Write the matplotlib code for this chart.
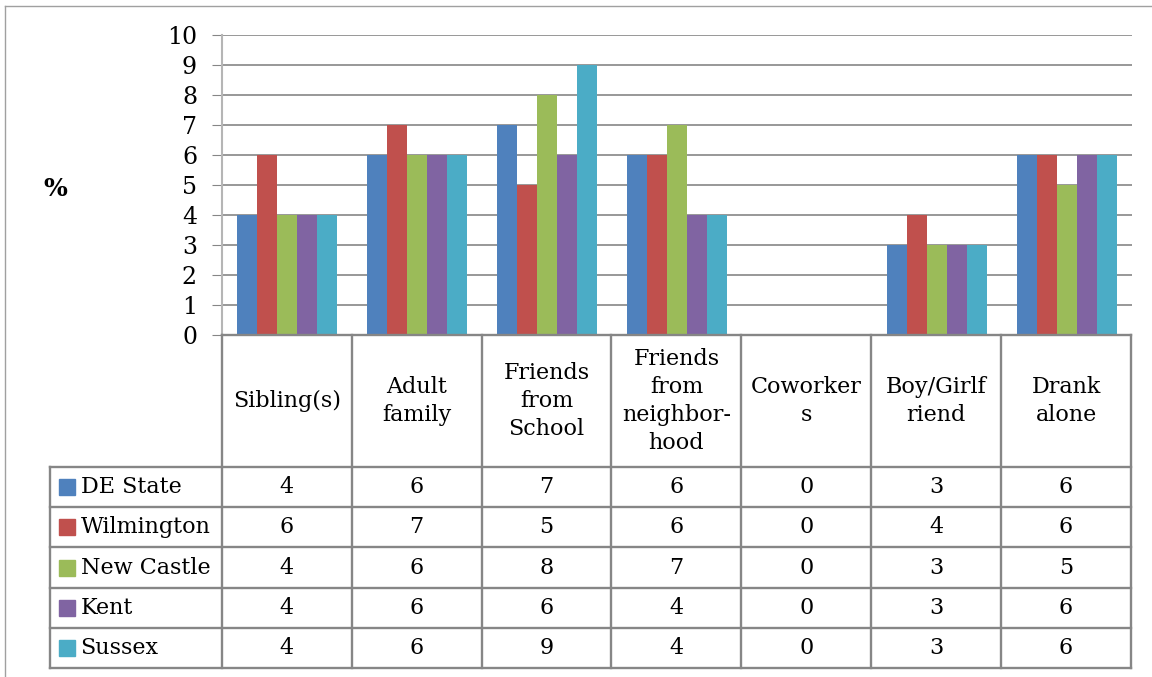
import matplotlib.pyplot as plt
from matplotlib.lines import Line2D

plt.rcParams['font.family'] = ['DejaVu Serif']

categories = ['Sibling(s)', 'Adult\nfamily', 'Friends\nfrom\nSchool', 'Friends\nfrom\nneighbor-\nhood',
              'Coworker\ns', 'Boy/Girlf\nriend', 'Drank\nalone']
series = ['DE State', 'Wilmington', 'New Castle', 'Kent', 'Sussex']
de_state = [4, 6, 7, 6, 0, 3, 6]
wilmington = [6, 7, 5, 6, 0, 4, 6]
new_castle = [4, 6, 8, 7, 0, 3, 5]
kent = [4, 6, 6, 4, 0, 3, 6]
sussex = [4, 6, 9, 4, 0, 3, 6]
values = [de_state, wilmington, new_castle, kent, sussex]
colors = ['#4F81BD', '#C0504D', '#9BBB59', '#8064A2', '#4BACC6']

W, H = 1152, 677
fig = plt.figure(figsize=(W / 100, H / 100), dpi=100)
grid_c = '#868686'
fs = 16

# bar chart
ax = fig.add_axes([222 / W, 1 - 335 / H, 910 / W, 300 / H])
bw = 20 / 130
x = range(len(categories))
for k, vals in enumerate(values):
    ax.bar([i + (k - 2) * bw for i in x], vals, width=bw, color=colors[k], zorder=2)
ax.set_xlim(-0.5, 6.5)
ax.set_ylim(0, 10)
ax.set_yticks(range(0, 11))
ax.tick_params(axis='y', labelsize=fs + 1, length=7, pad=11, color=grid_c)
ax.set_xticks([])
ax.yaxis.grid(True, color=grid_c, lw=1.2)
ax.set_axisbelow(True)
for s in ['top', 'right', 'bottom']:
    ax.spines[s].set_visible(False)
ax.spines['left'].set_color('#b5b5b5')
ax.spines['left'].set_linewidth(1.5)
fig.text(55 / W, 1 - 189 / H, '%', fontsize=fs + 2, fontweight='bold', ha='center', va='center')

# data table
hdr = 132 / 40.2
left = -0.5 - 172 / 130
tab = fig.add_axes([50 / W, 1 - 668 / H, (1131 - 50) / W, (668 - 335) / H])
tab.set_xlim(left, 6.5)
tab.set_ylim(hdr + 5, 0)
tab.axis('off')

lc = dict(color=grid_c, lw=1.7, clip_on=False, solid_capstyle='projecting')
tab.plot([-0.5, 6.5], [0, 0], **lc)
for r in range(6):
    tab.plot([left, 6.5], [hdr + r, hdr + r], **lc)
tab.plot([left, left], [hdr, hdr + 5], **lc)
for i in range(8):
    tab.plot([i - 0.5, i - 0.5], [0, hdr + 5], **lc)

for i, c in enumerate(categories):
    tab.text(i, hdr / 2, c, ha='center', va='center', fontsize=fs, linespacing=1.35)
for r, name in enumerate(series):
    y = hdr + r + 0.5
    tab.plot([left + 0.13], [y], marker='s', ms=11, color=colors[r], ls='none', clip_on=False)
    tab.text(left + 0.235, y, name, ha='left', va='center', fontsize=fs)
    for i, v in enumerate(values[r]):
        tab.text(i, y, str(v), ha='center', va='center', fontsize=fs)

# outer chart frame (clipped at right and bottom in the reference)
fig.add_artist(Line2D([5 / W, 1], [1 - 6 / H, 1 - 6 / H], transform=fig.transFigure, color='#a0a0a0', lw=1))
fig.add_artist(Line2D([5 / W, 5 / W], [0, 1 - 6 / H], transform=fig.transFigure, color='#a0a0a0', lw=1))

fig.savefig('out.png', dpi=100)
